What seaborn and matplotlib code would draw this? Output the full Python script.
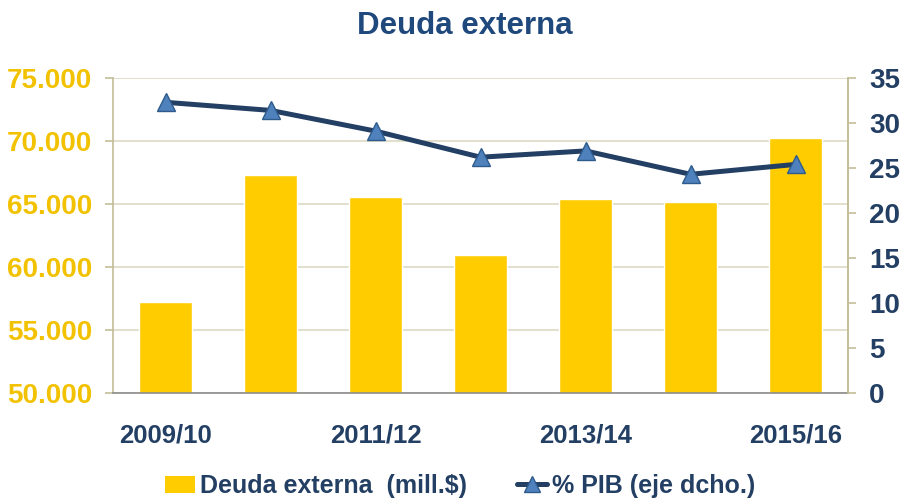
import numpy as np
import pandas as pd
import matplotlib
matplotlib.use("Agg")
import matplotlib.pyplot as plt
import seaborn as sns
from matplotlib.lines import Line2D
from matplotlib.patches import Patch

periods = ["2009/10", "2010/11", "2011/12", "2012/13", "2013/14", "2014/15", "2015/16"]
deuda = [57200, 67300, 65550, 60950, 65400, 65150, 70250]
pct_pib = [32.3, 31.4, 29.1, 26.2, 26.9, 24.3, 25.4]
label_periods = ["2009/10", "2011/12", "2013/14", "2015/16"]

df = pd.DataFrame({"periodo": periods, "deuda": deuda, "pib": pct_pib})
df["pos"] = np.arange(len(df))

navy = "#233F63"
title_blue = "#1F487C"
gold_text = "#F2C200"
bar_color = "#FFCC00"
beige = "#C4BD97"

sns.set_style("white")
plt.rcParams["font.family"] = ["Liberation Sans", "DejaVu Sans"]
plt.rcParams["font.weight"] = "bold"

fig = plt.figure(figsize=(9.05, 5.0), dpi=100)
ax = fig.add_axes([0.1249, 0.214, 0.8122, 0.63])

sns.barplot(data=df, x="periodo", y="deuda", color=bar_color, width=0.5,
            saturation=1, ax=ax, zorder=2)
ax.set_ylim(50000, 75000)
ax.set_xlim(-0.5, 6.5)
ax.set_yticks(np.arange(50000, 75001, 5000))
ax.set_yticklabels([f"{v:,}".replace(",", ".") for v in range(50000, 75001, 5000)],
                   color=gold_text, fontsize=20, fontweight="bold")
ax.yaxis.grid(True, color="#DDD9C3", linewidth=1.2, zorder=0)
ax.set_axisbelow(True)
ax.tick_params(axis="y", direction="out", length=6, color=beige, width=1.2, pad=9)

# category boundaries carry the tick marks, labels sit on every other bar
ax.set_xticks(np.arange(-0.5, 7, 1))
ax.set_xticklabels([])
ax.tick_params(axis="x", which="major", direction="out", length=6, color="#8C8C8C", width=1)
ax.set_xticks([periods.index(p) for p in label_periods], minor=True)
ax.set_xticklabels(label_periods, minor=True, color=navy, fontsize=18.5, fontweight="bold")
ax.tick_params(axis="x", which="minor", length=0, pad=22)
ax.set_xlabel("")
ax.set_ylabel("")

for side in ["left", "right"]:
    ax.spines[side].set_color(beige)
    ax.spines[side].set_linewidth(1.2)
ax.spines["top"].set_visible(False)
ax.spines["bottom"].set_color("#8C8C8C")
ax.spines["bottom"].set_linewidth(1.2)

ax2 = ax.twinx()
sns.lineplot(data=df, x="pos", y="pib", ax=ax2, color=navy, linewidth=3.6,
             marker="^", markersize=13, markerfacecolor="#4F81BD",
             markeredgecolor="#2E5B8C", markeredgewidth=1, zorder=3)
ax2.set_ylim(0, 35)
ax2.set_xlim(-0.5, 6.5)
ax2.set_yticks(np.arange(0, 36, 5))
ax2.set_yticklabels([str(v) for v in range(0, 36, 5)], color=navy,
                    fontsize=20, fontweight="bold")
ax2.tick_params(axis="y", direction="out", length=6, color=beige, width=1.2, pad=9)
ax2.set_xlabel("")
ax2.set_ylabel("")
for side in ["top", "left", "bottom"]:
    ax2.spines[side].set_visible(False)
ax2.spines["right"].set_color(beige)
ax2.spines["right"].set_linewidth(1.2)

fig.text(0.514, 0.948, "Deuda externa", ha="center", va="center",
         color=title_blue, fontsize=22.5, fontweight="bold")

handles = [
    Patch(facecolor=bar_color, edgecolor="none"),
    Line2D([0], [0], color=navy, linewidth=3.6, marker="^", markersize=12,
           markerfacecolor="#4F81BD", markeredgecolor="#2E5B8C"),
]
fig.legend(handles, ["Deuda externa  (mill.$)", "% PIB (eje dcho.)"],
           loc="center", bbox_to_anchor=(0.508, 0.028), ncol=2, frameon=False,
           prop={"size": 18, "weight": "bold"}, labelcolor=navy,
           handlelength=1.2, handletextpad=0.2, columnspacing=2.0)

fig.savefig("out.png", dpi=100)
